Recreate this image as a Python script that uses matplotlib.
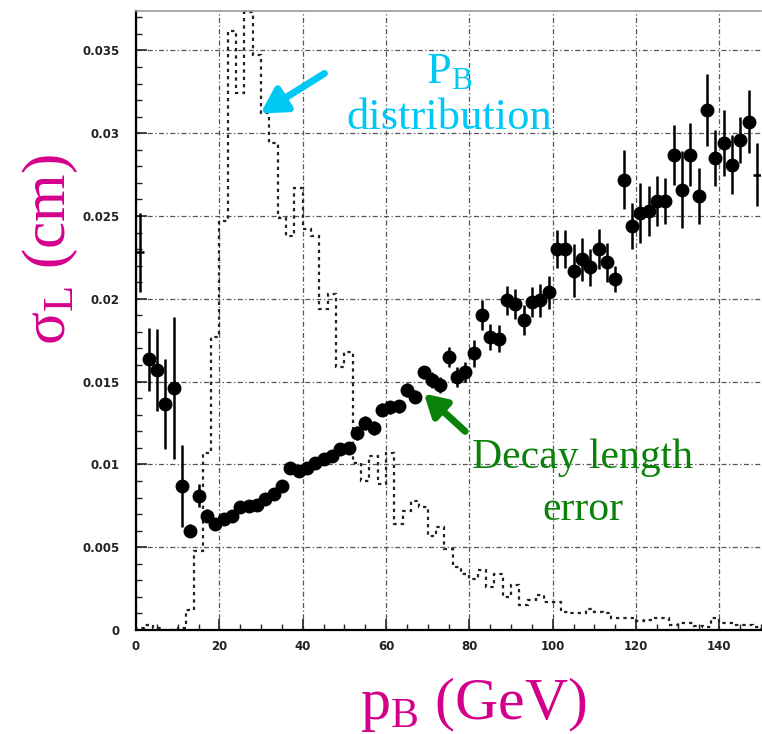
import numpy as np
import matplotlib
matplotlib.use('Agg')
import matplotlib.pyplot as plt
from matplotlib.ticker import MultipleLocator, FixedFormatter, FixedLocator

# p_B distribution histogram (2 GeV bins, 0..150), scaled onto the sigma axis
hist_edges = np.arange(0, 152, 2)
hist_vals = [0.0001, 0.0003, 0.0001, 0.0, 0.0, 0.0001, 0.0012, 0.0048, 0.0107, 0.0177,
             0.0247, 0.0362, 0.0324, 0.0373, 0.0347, 0.0312, 0.0294, 0.0249, 0.0238, 0.0267,
             0.0242, 0.0238, 0.0194, 0.0203, 0.0159, 0.0168, 0.0101, 0.0090, 0.0105, 0.0088,
             0.0107, 0.0064, 0.0072, 0.0078, 0.0074, 0.0057, 0.0062, 0.0049, 0.0038, 0.0034,
             0.0031, 0.0036, 0.0026, 0.0034, 0.0020, 0.0027, 0.0015, 0.0018, 0.0021, 0.0017,
             0.0017, 0.0011, 0.0010, 0.0010, 0.00125, 0.0011, 0.00105, 0.0007, 0.00075, 0.00075,
             0.00056, 0.0006, 0.0007, 0.00075, 0.0003, 0.0004, 0.0004, 0.00025, 0.0002, 0.0007,
             0.00045, 0.0004, 0.0003, 0.0003, 0.0002]

# decay length error vs p_B
p_centers = np.arange(1, 150, 2)
sigma_L = [0.0228, 0.01635, 0.0157, 0.01365, 0.0146, 0.0087, 0.0060, 0.0081, 0.0069, 0.0064,
           0.0067, 0.0069, 0.00745, 0.0075, 0.00755, 0.0079, 0.0082, 0.0087, 0.0098, 0.0096,
           0.0098, 0.0101, 0.0103, 0.0105, 0.0109, 0.0110, 0.0119, 0.0125, 0.0122, 0.0133,
           0.01345, 0.0135, 0.0145, 0.0141, 0.01555, 0.0151, 0.0148, 0.0165, 0.0153, 0.0156,
           0.0167, 0.0190, 0.0177, 0.0176, 0.0199, 0.0197, 0.0187, 0.0198, 0.0199, 0.0204,
           0.0230, 0.0230, 0.0217, 0.0224, 0.0219, 0.0230, 0.0222, 0.0212, 0.0272, 0.0244,
           0.0252, 0.0253, 0.0259, 0.0259, 0.0287, 0.0266, 0.0287, 0.0262, 0.0314, 0.0285,
           0.0294, 0.0281, 0.0296, 0.0307, 0.0275]
sigma_err = [0.0024, 0.0019, 0.0025, 0.0027, 0.0043, 0.0025, 0.0004, 0.0007, 0.0004, 0.0003,
             0.0003, 0.0003, 0.0003, 0.0003, 0.0003, 0.0003, 0.0003, 0.0003, 0.0003, 0.0003,
             0.0003, 0.0003, 0.0003, 0.0003, 0.0003, 0.0003, 0.0004, 0.0004, 0.0004, 0.0004,
             0.0004, 0.0004, 0.0004, 0.0004, 0.0004, 0.0005, 0.0005, 0.0006, 0.0006, 0.0006,
             0.0008, 0.0009, 0.0008, 0.0008, 0.00085, 0.0009, 0.0009, 0.0009, 0.0010, 0.0010,
             0.00115, 0.00115, 0.0016, 0.0013, 0.0011, 0.0012, 0.0012, 0.0008, 0.0018, 0.0014,
             0.0018, 0.0015, 0.0015, 0.0014, 0.0018, 0.0023, 0.0019, 0.0017, 0.0022, 0.0017,
             0.0020, 0.0018, 0.0014, 0.0019, 0.0019]

x_ticks = [0, 20, 40, 60, 80, 100, 120, 140]
y_ticks = [0, 0.005, 0.01, 0.015, 0.02, 0.025, 0.03, 0.035]
y_tick_labels = ['0', '0.005', '0.01', '0.015', '0.02', '0.025', '0.03', '0.035']

magenta = '#d4008c'
cyan = '#00c8f5'
green = '#0a820a'
serif = ['Liberation Serif', 'DejaVu Serif']

plt.rcParams['mathtext.fontset'] = 'custom'
plt.rcParams['mathtext.rm'] = 'Liberation Serif'

fig = plt.figure(figsize=(7.62, 7.34), dpi=100)
ax = fig.add_axes([136 / 762, 1 - 630 / 734, 625 / 762, 619 / 734])
ax.set_xlim(0, 150)
ax.set_ylim(0, 0.03738)

# grid
ax.grid(True, which='major', color='#555555', linestyle=(0, (4, 2, 1, 2)), linewidth=0.9)
ax.set_axisbelow(True)

# histogram
ax.stairs(hist_vals, hist_edges, color='#222222', linewidth=1.6, linestyle=(0, (1.5, 1.8)))

# points
xs = np.array(p_centers)
ys = np.array(sigma_L)
es = np.array(sigma_err)
inner = slice(1, -1)
ax.errorbar(xs[inner], ys[inner], yerr=es[inner], fmt='o', color='black', ms=9,
            elinewidth=1.8, capsize=0, zorder=4)
ends = [0, -1]
ax.errorbar(xs[ends], ys[ends], yerr=es[ends], xerr=1, fmt='none', ecolor='black',
            elinewidth=1.8, capsize=0, zorder=4)

# ticks
ax.xaxis.set_major_locator(FixedLocator(x_ticks))
ax.xaxis.set_minor_locator(MultipleLocator(5))
ax.yaxis.set_major_locator(FixedLocator(y_ticks))
ax.yaxis.set_major_formatter(FixedFormatter(y_tick_labels))
ax.yaxis.set_minor_locator(MultipleLocator(0.001))
ax.tick_params(which='major', direction='in', length=8, width=1.2, color='#222222',
               labelsize=8.5, labelcolor='#222222')
ax.tick_params(axis='y', which='major', pad=12)
ax.tick_params(axis='x', which='major', pad=7)
ax.tick_params(which='minor', direction='in', length=4, width=1.0, color='#222222')
ax.tick_params(top=False, right=False, which='both')
for lab in ax.get_xticklabels() + ax.get_yticklabels():
    lab.set_fontweight('bold')

ax.spines['left'].set_linewidth(1.6)
ax.spines['bottom'].set_linewidth(1.6)
ax.spines['top'].set_color('#999999')
ax.spines['top'].set_linewidth(1.2)
ax.spines['right'].set_visible(False)

# labels
fig.text(50 / 762, 1 - 250 / 734, r'$\mathregular{\sigma_L}$ (cm)', rotation=90, color=magenta,
         fontsize=44, family=serif, ha='center', va='center')
fig.text(473 / 762, 1 - 705 / 734, r'$\mathregular{p_B}$ (GeV)', color=magenta,
         fontsize=43, family=serif, ha='center', va='center')

# annotations
fig.text(449 / 762, 1 - 72 / 734, r'$\mathregular{P_B}$', color=cyan, fontsize=32,
         family=serif, ha='center', va='center')
fig.text(449 / 762, 1 - 118 / 734, 'distribution', color=cyan, fontsize=32,
         family=serif, ha='center', va='center')
ax.annotate('', xy=(29.3, 0.0311), xytext=(45.8, 0.0337),
            arrowprops=dict(arrowstyle='-|>,head_length=1.5,head_width=0.85', color=cyan, lw=5))

fig.text(583 / 762, 1 - 458 / 734, 'Decay length', color=green, fontsize=30,
         family=serif, ha='center', va='center')
fig.text(583 / 762, 1 - 510 / 734, 'error', color=green, fontsize=30,
         family=serif, ha='center', va='center')
ax.annotate('', xy=(68.6, 0.01439), xytext=(79.5, 0.01188),
            arrowprops=dict(arrowstyle='-|>,head_length=1.3,head_width=0.75', color=green, lw=5))

fig.savefig('out.png', dpi=100)
